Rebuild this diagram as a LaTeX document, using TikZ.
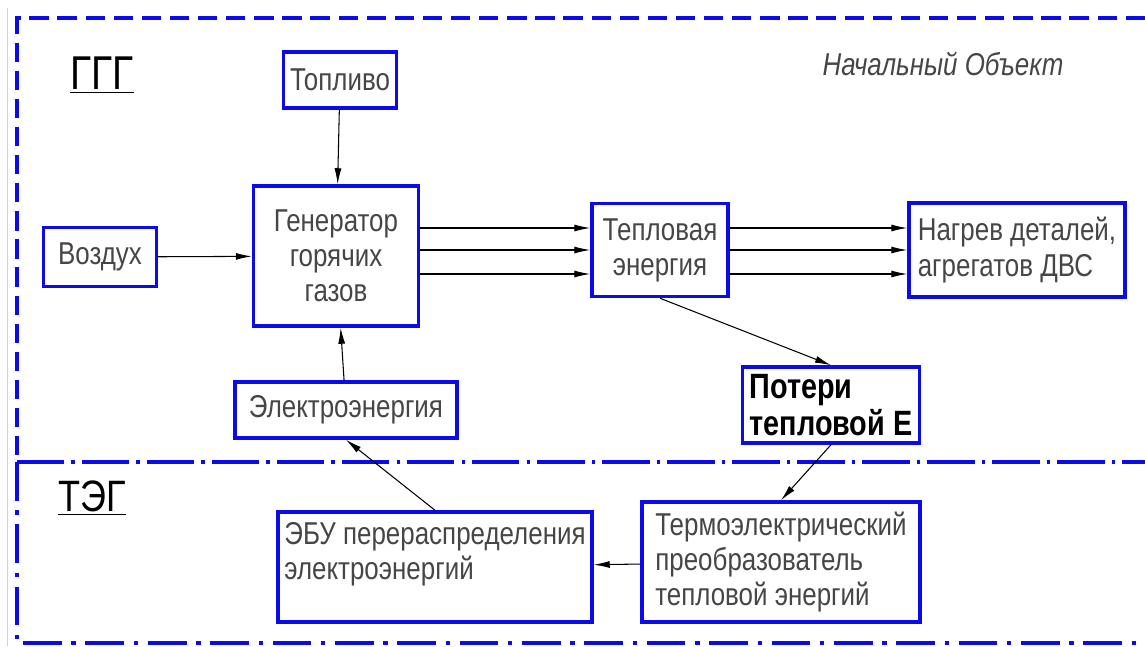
\documentclass[tikz,border=0pt]{standalone}
\usepackage{fontspec}
\setmainfont{Liberation Sans}[FakeStretch=0.82]
\usetikzlibrary{arrows.meta}
\definecolor{frameblue}{RGB}{10,10,235}
\definecolor{inkgray}{RGB}{70,70,70}
\begin{document}
\begin{tikzpicture}[x=0.02cm,y=-0.02cm,
    box/.style={draw=frameblue,line width=2pt,inner sep=3pt,text=inkgray,
      font=\fontsize{18}{20}\selectfont},
    flow/.style={-{Latex[length=3.2mm,width=1.4mm]},line width=0.6pt},
    border/.style={frameblue,line width=2pt}]
  \useasboundingbox (0,0) rectangle (1145,646);
  \draw[gray!35] (7,8) -- (7,646);
  \draw[border,dash pattern=on 11pt off 5pt] (1145,18) -- (17,18) -- (17,462);
  \draw[border,dash pattern=on 27pt off 4pt on 2pt off 4pt] (17,462) -- (1145,462);
  \draw[border,dash pattern=on 22pt off 5.5pt on 2.5pt off 5.5pt] (17,462) -- (17,643) -- (1145,643);
  \node[font=\fontsize{27}{30}\selectfont] (ggg) at (102,75) {\underline{ГГГ}};
  \node[font=\fontsize{25}{30}\selectfont] (teg) at (92,498) {\underline{ТЭГ}};
  \node[text=inkgray,font=\fontsize{18}{20}\selectfont\itshape] (title) at (943,64) {Начальный Объект};
  \node[box,minimum width=2.26cm,minimum height=1.12cm] (fuel) at (340,80) {Топливо};
  \node[box,minimum width=3.3cm,minimum height=2.8cm,align=center] (gen) at (336,256)
    {Генератор\\горячих\\газов};
  \node[box,minimum width=2.26cm,minimum height=1.18cm] (air) at (100,257) {Воздух};
  \node[box,minimum width=4.44cm,minimum height=1.12cm] (elec) at (346,410) {Электроэнергия};
  \node[box,minimum width=2.72cm,minimum height=1.86cm,align=center] (heat) at (660,250)
    {Тепловая\\энергия};
  \node[box,minimum width=4.32cm,minimum height=1.88cm,align=left] (warm) at (1017,250)
    {Нагрев деталей,\\агрегатов ДВС};
  \node[box,minimum width=3.54cm,minimum height=1.52cm,align=left,text=black,
    font=\fontsize{20}{21}\selectfont\bfseries] (loss) at (831,405) {Потери\\тепловой Е};
  \node[box,minimum width=6.28cm,minimum height=2.2cm,align=left] (ecu) at (435,567)
    {ЭБУ перераспределения\\электроэнергий\\[-8pt]\strut};
  \node[box,minimum width=5.56cm,minimum height=2.4cm,align=left] (conv) at (781,562)
    {Термоэлектрический\\преобразователь\\тепловой энергий};
  \draw[flow] (fuel) -- (gen);
  \draw[flow] (air) -- (gen);
  \draw[flow] (elec) -- (gen);
  \foreach \dy in {-22,0,24} {
    \draw[flow] ([yshift=-\dy*0.02cm]heat.west -| gen.east) -- ([yshift=-\dy*0.02cm]heat.west);
    \draw[flow] ([yshift=-\dy*0.02cm]heat.east) -- ([yshift=-\dy*0.02cm]heat.east -| warm.west);
  }
  \draw[flow] (heat.south) -- (loss.north);
  \draw[flow] (loss.south) -- (conv.north);
  \draw[flow] (conv) -- (ecu);
  \draw[flow] (ecu.north) -- (elec.south);
\end{tikzpicture}
\end{document}
